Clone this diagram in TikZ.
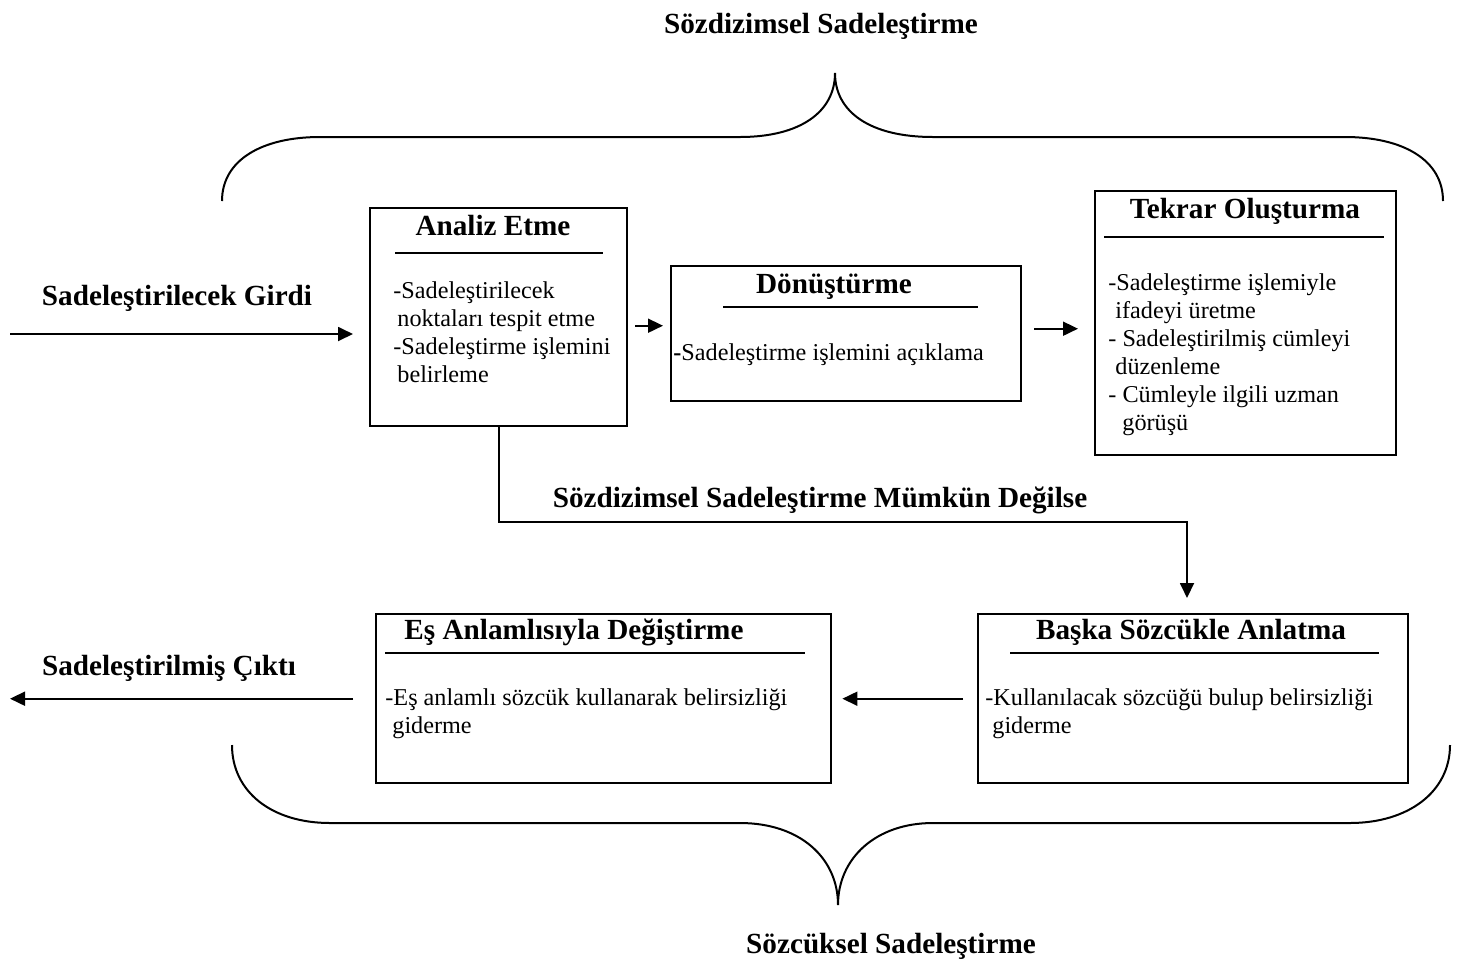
\documentclass[tikz,border=0pt]{standalone}
\usepackage{fontspec}
\setmainfont{Liberation Serif}
\usetikzlibrary{arrows.meta, positioning}

\begin{document}
\begin{tikzpicture}[
		x=0.5pt, y=-0.5pt,
		kutu/.style={draw, line width=1.2pt, inner sep=0pt, anchor=north west},
		baslik/.style={font=\fontsize{14.6}{16}\selectfont\bfseries, anchor=base, inner sep=0pt},
		metin/.style={font=\fontsize{12.1}{14}\selectfont, align=left, anchor=north west, inner sep=0pt},
		cizgi/.style={line width=1pt},
		ayrac/.style={line width=1pt},
		arrow/.style={-{Triangle[length=7.5pt, width=7pt]}, line width=0.9pt}
	]
		\useasboundingbox (0,0) rectangle (1461,960);

		% kutular
		\node[kutu, minimum width=128.5pt, minimum height=109pt] (analiz) at (369,207) {};
		\node[kutu, minimum width=175pt, minimum height=67.5pt] (donustur) at (670,265) {};
		\node[kutu, minimum width=150.5pt, minimum height=132pt] (tekrar) at (1094,190) {};
		\node[kutu, minimum width=215pt, minimum height=84.5pt] (baska) at (977,613) {};
		\node[kutu, minimum width=227.5pt, minimum height=84.5pt] (esanlam) at (375,613) {};

		% basliklar
		\node[baslik] (analizbas) at (493,235) {Analiz Etme};
		\node[baslik] (donusturbas) at (834,293) {Dönüştürme};
		\node[baslik] (tekrarbas) at (1245,218) {Tekrar Oluşturma};
		\node[baslik] (baskabas) at (1191,639) {Başka Sözcükle Anlatma};
		\node[baslik] (esanlambas) at (574,639) {Eş Anlamlısıyla Değiştirme};
		\draw[cizgi] (395,253) -- (603,253);
		\draw[cizgi] (723,307) -- (978,307);
		\draw[cizgi] (1104,237) -- (1384,237);
		\draw[cizgi] (1010,653) -- (1379,653);
		\draw[cizgi] (385,653) -- (805,653);

		% metinler
		\node[metin] (analizmetin) at (393,281) {-Sadeleştirilecek\\
			\hspace*{2pt}noktaları tespit etme\\
			-Sadeleştirme işlemini\\
			\hspace*{2pt}belirleme};
		\node[metin] (donusturmetin) at (673,343) {\textbf{-}Sadeleştirme işlemini açıklama};
		\node[metin] (tekrarmetin) at (1108,273) {-Sadeleştirme işlemiyle\\
			\hspace*{3.5pt}ifadeyi üretme\\
			- Sadeleştirilmiş cümleyi\\
			\hspace*{3.5pt}düzenleme\\
			- Cümleyle ilgili uzman\\
			\hspace*{7pt}görüşü};
		\node[metin] (baskametin) at (985,688) {-Kullanılacak sözcüğü bulup belirsizliği\\
			\hspace*{3.5pt}giderme};
		\node[metin] (esanlammetin) at (385,688) {-Eş anlamlı sözcük kullanarak belirsizliği\\
			\hspace*{3.5pt}giderme};

		% giris ve cikis
		\coordinate (girdi) at (10,334);
		\coordinate (cikti) at (10,697);
		\node[baslik] (girdiyazi) at (177,305) {Sadeleştirilecek Girdi};
		\node[baslik] (ciktiyazi) at (169,675) {Sadeleştirilmiş Çıktı};
		\draw[arrow, shorten >=8pt] (girdi) -- (girdi -| analiz.west);
		\draw[arrow, shorten <=11pt] (esanlam.west) -- (esanlam.west -| cikti);

		% oklar
		\draw[arrow, shorten <=3.5pt, shorten >=3.5pt] ([yshift=4pt]analiz.east |- donustur.west) -- ([yshift=4pt]donustur.west);
		\draw[arrow, shorten <=6pt, shorten >=8pt] ([yshift=2.5pt]donustur.east) -- ([yshift=2.5pt]donustur.east -| tekrar.west);
		\draw[arrow, shorten <=7pt, shorten >=5pt] (baska.west) -- (esanlam.east);
		\coordinate (donus) at (1187,522);
		\draw[arrow, shorten >=7.5pt] (analiz.south) |- (donus) -- (donus |- baska.north);
		\node[baslik] (mumkundegil) at (820,507) {Sözdizimsel Sadeleştirme Mümkün Değilse};

		% ayraclar
		\draw[ayrac] (222,201) .. controls (222,160) and (262,137) .. (320,137) -- (740,137)
			.. controls (800,137) and (835,112) .. (835,73)
			.. controls (835,112) and (870,137) .. (933,137) -- (1345,137)
			.. controls (1403,137) and (1443,160) .. (1443,201);
		\draw[ayrac] (232,745) .. controls (232,792) and (272,823) .. (330,823) -- (740,823)
			.. controls (800,823) and (838,858) .. (838,905)
			.. controls (838,858) and (876,823) .. (933,823) -- (1350,823)
			.. controls (1408,823) and (1450,792) .. (1450,745);
		\node[baslik] (sozdizim) at (821,33) {Sözdizimsel Sadeleştirme};
		\node[baslik] (sozcuk) at (891,953) {Sözcüksel Sadeleştirme};
	\end{tikzpicture}
\end{document}
